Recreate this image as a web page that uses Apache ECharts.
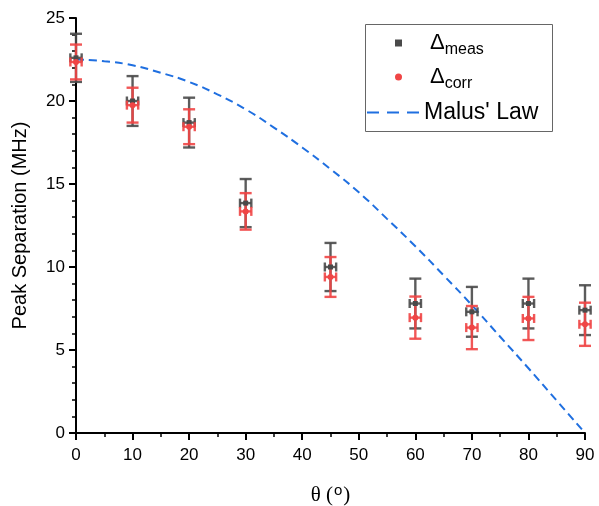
<!DOCTYPE html>
<html>
<head>
<meta charset="utf-8">
<script src="https://cdn.jsdelivr.net/npm/echarts@6/dist/echarts.min.js"></script>
<style>
  html, body { margin: 0; padding: 0; background: #fff; }
  #chart { width: 599px; height: 506px; }
</style>
</head>
<body>
<div id="chart"></div>
<script>
  // angles (deg)
  var theta = [0, 10, 20, 30, 45, 60, 70, 80, 90]
  var thetaErr = [1, 1, 1, 1, 1, 1, 1, 1, 1]

  // measured peak separation (MHz)
  var measVal = [22.6, 20.0, 18.7, 13.85, 10.0, 7.8, 7.3, 7.8, 7.4]
  var measErr = [1.45, 1.5, 1.5, 1.45, 1.45, 1.5, 1.5, 1.5, 1.5]

  // corrected peak separation (MHz)
  var corrVal = [22.35, 19.75, 18.45, 13.35, 9.4, 6.95, 6.35, 6.9, 6.55]
  var corrErr = [1.05, 1.05, 1.05, 1.1, 1.2, 1.27, 1.3, 1.3, 1.3]

  // Malus' law curve
  var malusTheta = [0, 5, 10, 15, 20, 25, 30, 35, 40, 45, 50, 55, 60, 65, 70, 75, 80, 85, 90]
  var malusVal = [22.5, 22.4, 22.15, 21.7, 21.15, 20.4, 19.5, 18.4, 17.2, 15.9, 14.5, 12.9, 11.25, 9.5, 7.7, 5.8, 3.9, 1.95, 0]

  var black = '#4a4a4a'
  var red = '#f04545'
  var blue = '#1f6fe0'

  function zip () {
    var cols = arguments
    return cols[0].map(function (v, i) {
      var row = []
      for (var k = 0; k < cols.length; k++) row.push(cols[k][i])
      return row
    })
  }

  function errBars (color) {
    return function (params, api) {
      var x = api.value(0), y = api.value(1), e = api.value(2), ex = api.value(3)
      var c = api.coord([x, y])
      var t = api.coord([x, y + e])
      var b = api.coord([x, y - e])
      var l = api.coord([x - ex, y])
      var r = api.coord([x + ex, y])
      var cw = 6, ch = 4.5
      var style = { stroke: color, lineWidth: 2.4, opacity: 0.9 }
      var seg = function (x1, y1, x2, y2) {
        return { type: 'line', shape: { x1: x1, y1: y1, x2: x2, y2: y2 }, style: style }
      }
      return {
        type: 'group',
        children: [
          seg(c[0], t[1], c[0], b[1]),
          seg(c[0] - cw, t[1], c[0] + cw, t[1]),
          seg(c[0] - cw, b[1], c[0] + cw, b[1]),
          seg(l[0], c[1], r[0], c[1]),
          seg(l[0], c[1] - ch, l[0], c[1] + ch),
          seg(r[0], c[1] - ch, r[0], c[1] + ch)
        ]
      }
    }
  }

  var chart = echarts.init(document.getElementById('chart'))

  var axisText = { color: '#000', fontSize: 17, fontFamily: 'Liberation Sans, Arial' }
  var legendRich = {
    g: { fontSize: 22, fontFamily: 'Liberation Sans, Arial', color: '#000', padding: [0, 0, 0, 23] },
    s: { fontSize: 16, fontFamily: 'Liberation Sans, Arial', color: '#000', padding: [14, 0, 0, 0] }
  }

  var option = {
    animation: false,
    backgroundColor: '#fff',
    grid: { left: 76, right: 14, top: 18, bottom: 73, outerBoundsMode: 'none' },
    xAxis: {
      type: 'value',
      min: 0,
      max: 90,
      interval: 10,
      name: '{t|θ (}{o|o}{t|)}',
      nameLocation: 'middle',
      nameGap: 50,
      nameTextStyle: {
        rich: {
          t: { fontSize: 21, fontFamily: 'Liberation Serif, Times New Roman', color: '#000' },
          o: { fontSize: 15, fontFamily: 'Liberation Sans, Arial', color: '#000', padding: [0, 1, 10, 1] }
        }
      },
      axisLine: { lineStyle: { color: '#000', width: 2 } },
      axisTick: { length: 7, lineStyle: { color: '#000', width: 2 } },
      minorTick: { show: true, splitNumber: 2, length: 4, lineStyle: { color: '#000', width: 1.5 } },
      splitLine: { show: false },
      axisLabel: Object.assign({ margin: 14 }, axisText)
    },
    yAxis: {
      type: 'value',
      min: 0,
      max: 25,
      interval: 5,
      name: 'Peak Separation (MHz)',
      nameLocation: 'middle',
      nameGap: 46,
      nameTextStyle: { fontSize: 20, fontFamily: 'Liberation Sans, Arial', color: '#000' },
      axisLine: { lineStyle: { color: '#000', width: 2 } },
      axisTick: { length: 7, lineStyle: { color: '#000', width: 2 } },
      minorTick: { show: true, splitNumber: 5, length: 4, lineStyle: { color: '#000', width: 1.5 } },
      splitLine: { show: false },
      axisLabel: Object.assign({ margin: 11 }, axisText)
    },
    graphic: [{
      type: 'rect',
      shape: { x: 365.5, y: 24.5, width: 187, height: 107 },
      style: { fill: '#fff', stroke: '#666', lineWidth: 1 },
      z: 0
    }],
    legend: [
      {
        data: ['meas'],
        left: 390,
        top: 27,
        itemWidth: 7,
        itemHeight: 7,
        formatter: function () { return '{g|Δ}{s|meas}' },
        textStyle: { rich: legendRich }
      },
      {
        data: ['corr'],
        left: 390,
        top: 61,
        itemWidth: 7,
        itemHeight: 7,
        formatter: function () { return '{g|Δ}{s|corr}' },
        textStyle: { rich: legendRich }
      },
      {
        data: [{ name: "Malus' Law", icon: 'path://M0,0h12v2h-12zM20,0h12v2h-12zM40,0h12v2h-12z' }],
        left: 362,
        top: 96,
        itemWidth: 52,
        itemHeight: 2,
        textStyle: { fontSize: 23, fontFamily: 'Liberation Sans, Arial', color: '#000' }
      }
    ],
    series: [
      {
        name: "Malus' Law",
        type: 'line',
        smooth: true,
        symbol: 'none',
        data: zip(malusTheta, malusVal),
        lineStyle: { color: blue, width: 2, type: [8, 5] },
        itemStyle: { color: blue },
        z: 1
      },
      {
        name: 'measErr',
        type: 'custom',
        data: zip(theta, measVal, measErr, thetaErr),
        renderItem: errBars(black),
        encode: { x: 0, y: 1 },
        z: 2
      },
      {
        name: 'corrErr',
        type: 'custom',
        data: zip(theta, corrVal, corrErr, thetaErr),
        renderItem: errBars(red),
        encode: { x: 0, y: 1 },
        z: 3
      },
      {
        name: 'meas',
        type: 'scatter',
        symbol: 'rect',
        symbolSize: 5,
        data: zip(theta, measVal),
        itemStyle: { color: black, opacity: 1 },
        z: 4
      },
      {
        name: 'corr',
        type: 'scatter',
        symbol: 'circle',
        symbolSize: 6,
        data: zip(theta, corrVal),
        itemStyle: { color: red, opacity: 1 },
        z: 5
      }
    ]
  }

  chart.setOption(option)
</script>
</body>
</html>
